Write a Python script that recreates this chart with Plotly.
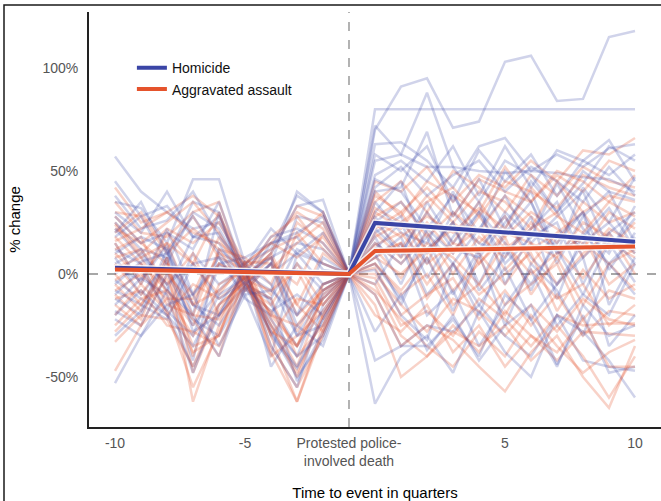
import plotly.graph_objects as go

# quarters relative to the event (event position = -1 on this axis)
quarters = list(range(-10, 11))

# homicide city series (% change), 21 values each
homicide = [
    [57, 40, 30, 22, 25, 3, 0, 10, 5, 0, 70, 91, 95, 71, 74, 103, 106, 84, 85, 115, 118],
    [45, 28, 33, 18, 20, -2, 8, 15, 12, 0, 80, 80, 80, 80, 80, 80, 80, 80, 80, 80, 80],
    [35, 32, 15, 46, 46, 5, 12, 38, 30, 0, 72, 58, 88, 52, 35, 55, 48, 30, 44, 62, 55],
    [30, 20, 40, 18, 28, -3, 10, 33, 36, 0, 63, 64, 55, 42, 62, 66, 50, 58, 52, 61, 63],
    [25, 12, 8, 35, 30, -8, -12, 12, 5, 0, 55, 58, 52, 52, 50, 49, 50, 49, 47, 46, 40],
    [22, 8, -5, -42, 12, 2, -30, -46, -22, 0, 46, 40, 22, 38, 20, 50, 35, 10, 42, 25, 47],
    [18, 28, 5, 30, 22, 0, -8, 28, 25, 0, 40, 42, 69, 28, 46, 22, 45, 30, 50, 40, 36],
    [15, -5, 22, -10, 8, -12, -20, 5, -8, 0, 35, 20, 15, 40, 10, 30, 18, 44, 22, 10, 33],
    [12, 5, -18, 10, -5, 4, -5, -30, -10, 0, 30, 45, 10, 25, -5, 20, 35, 5, 28, 40, 15],
    [10, 18, 12, -20, 30, -4, 15, 20, 28, 0, 28, 8, 35, 15, 30, 5, 18, 25, -5, 20, 30],
    [8, -10, 5, -25, -8, 6, -15, -35, -18, 0, 25, 35, 20, 5, 22, 38, 15, 28, 40, 12, 27],
    [5, 12, -8, 18, 15, -6, 5, -20, 8, 0, 22, 10, 30, 12, 8, 25, 40, 10, 18, 32, 12],
    [3, -3, 14, -15, -20, 2, -28, -50, -32, 0, 20, 28, 5, 30, 15, 10, 22, 35, 8, 20, 5],
    [0, 10, -5, 5, 8, -10, -40, 10, -5, 0, 18, -5, 22, 10, 30, 15, -8, 18, 30, 2, 20],
    [-3, -12, -20, -45, -20, -5, -12, -52, -28, 0, 15, 5, 18, -10, 12, 28, 8, -5, 15, 25, 10],
    [-5, 6, 10, -10, 5, 8, 15, 18, 2, 0, 12, 25, -2, 18, 35, -5, 20, 12, -10, 15, -4],
    [-8, -15, -22, 5, -12, -4, -22, -40, -8, 0, 10, -15, 12, 25, -8, 8, 28, -12, 20, 5, 18],
    [-10, 2, -18, -30, 4, 0, 8, -25, -35, 0, 8, 18, -10, 5, -20, 12, -5, 15, 30, -15, 8],
    [-12, -20, 8, -15, -25, -6, -18, -10, -20, 0, 5, -12, 8, -18, 10, -25, 5, -8, -30, 5, -10],
    [-15, -2, -10, -48, -15, 3, -35, -55, -15, 0, 2, -20, -32, 5, -15, 3, -22, -5, 8, -35, -20],
    [-18, -25, 0, -22, -30, -8, 5, -30, -25, 0, -5, 15, -20, -8, -35, -15, 2, -25, -10, -20, 5],
    [-20, -8, -20, -35, -10, -2, -25, -40, -30, 0, -10, -35, -25, -28, -15, -30, -40, -20, -42, -45, -47],
    [-22, -30, -15, -10, -35, -10, -8, -20, -5, 0, -28, -10, -37, -20, -42, -25, -15, -44, -20, -48, -45],
    [-30, -18, 12, -28, -20, 2, -45, -25, -12, 0, -63, -40, -30, -48, -18, -38, -50, -20, -28, -42, -60],
    [-53, -30, -8, -20, -40, -6, -28, -45, -22, 0, -42, -35, -35, -22, -40, -10, -22, -45, -15, -30, -25],
    [38, 22, 26, 40, 18, 4, 22, 10, 20, 0, 58, 50, 62, 35, 60, 45, 58, 38, 55, 48, 58],
    [28, 15, 20, 12, 35, 0, 18, 22, 15, 0, 48, 55, 45, 62, 38, 62, 42, 60, 55, 65, 45],
    [20, 35, 10, 28, 10, -5, 5, 40, 30, 0, 42, 52, 38, 48, 55, 40, 52, 45, 35, 52, 38],
]

# aggravated assault city series (% change), 21 values each
assault = [
    [42, 25, 30, 38, 28, 5, 15, 30, 22, 0, 45, 40, 52, 35, 48, 42, 55, 45, 60, 58, 66],
    [35, 20, 18, 30, 35, -2, 10, 33, 28, 0, 40, 28, 45, 38, 30, 52, 35, 48, 40, 55, 50],
    [30, 28, 10, 22, 12, 8, -5, 25, 15, 0, 35, 45, 30, 50, 42, 30, 48, 38, 52, 45, 42],
    [25, 10, 22, 15, 25, 3, 12, 18, 30, 0, 30, 22, 38, 25, 40, 35, 22, 45, 30, 38, 35],
    [22, 15, 5, -10, 18, -5, 8, -15, 10, 0, 28, 35, 18, 30, 20, 38, 28, 15, 35, 25, 30],
    [20, 30, 12, 28, 8, 2, -10, 20, 5, 0, 25, 12, 30, 15, 35, 18, 30, 22, 12, 30, 22],
    [18, 5, -8, -25, 5, 0, -20, -35, -12, 0, 22, 30, 10, 25, 15, 28, 5, 20, 30, 12, 25],
    [15, -5, 20, 5, -10, 6, 5, -5, 20, 0, 20, 8, 25, 10, 28, 12, 22, 30, 8, 22, 15],
    [12, 18, -10, -30, -15, -4, -25, -48, -20, 0, 18, 25, 12, 22, 5, 20, 15, 8, 25, 18, 10],
    [10, -2, 15, -15, 10, 4, 8, -20, -8, 0, 15, 5, 20, 0, 18, 8, 25, 12, -2, 15, 8],
    [8, 12, -5, 10, -20, -6, -15, 5, -15, 0, 14, 20, 5, 15, 10, -5, 12, 20, 15, 5, 12],
    [5, -10, 8, -40, -5, 2, -30, -62, -25, 0, 12, -2, 15, 8, -5, 15, 0, 10, 18, -5, 5],
    [3, 8, -15, -20, 12, -8, 5, -28, -5, 0, 10, 15, -5, 12, 22, 2, 15, -5, 10, 20, 0],
    [0, -15, 5, -62, -25, 5, -40, -30, -18, 0, 8, 0, 12, -8, 5, 18, -10, 8, -15, 5, -8],
    [-3, 5, -20, -5, -12, -2, 10, -15, -28, 0, 8, 15, -12, 5, -10, 0, 10, -18, 2, -12, -5],
    [-5, -18, -2, -35, -30, 6, -22, -45, -10, 0, 5, -10, 0, -20, 8, -15, -5, 5, -22, -8, -12],
    [-8, 0, -12, -12, 5, -3, -8, 2, -22, 0, 5, -8, 8, -15, -5, -20, 2, -12, -5, -25, -15],
    [-10, -22, 8, -48, -18, 0, -35, -55, -30, 0, 3, -20, -10, -2, -22, -8, -25, -10, -30, -18, -20],
    [-12, -8, -25, -28, -35, -7, -18, -35, -5, 0, 0, -15, -28, -12, -18, -30, -15, -28, -12, -22, -25],
    [-15, -25, 0, -15, -8, 3, -30, -12, -15, 0, -2, -25, -18, -30, -12, -22, -35, -20, -25, -24, -24],
    [-20, -5, -18, -55, -28, -5, -12, -40, -25, 0, -5, -30, -40, -25, -38, -18, -30, -42, -28, -29, -30],
    [-25, -12, -8, -22, -40, 1, -25, -50, -20, 0, -8, -22, -35, -45, -28, -40, -20, -35, -48, -38, -32],
    [-33, -20, -22, -45, -15, -4, -28, -35, -12, 0, -10, -35, -25, -32, -45, -57, -38, -25, -40, -60, -40],
    [-47, -25, -12, -38, -30, 2, -20, -25, -8, 0, -15, -50, -40, -28, -35, -25, -42, -30, -50, -65, -35],
    [-28, -15, 2, -20, -22, -1, -38, -62, -28, 0, -20, -28, -15, -38, -25, -45, -30, -38, -22, -45, -45],
    [28, 15, 25, 35, 20, 0, 18, 28, 12, 0, 38, 30, 42, 28, 46, 40, 35, 50, 45, 35, 48],
    [24, 8, 15, 5, 30, -3, 2, 15, 25, 0, 32, 25, 35, 42, 28, 45, 40, 32, 48, 42, 38],
    [16, 22, 30, 20, 15, 5, 15, 8, 18, 0, 26, 18, 28, 20, 32, 22, 42, 28, 20, 35, 28],
]

# average trend lines
mean_x = [-10, -1, 0, 10]
homicide_mean = [3.0, 0.0, 24.8, 15.7]
assault_mean = [2.2, 0.0, 11.2, 13.3]

series_names = ["Homicide", "Aggravated assault"]

x_tickvals = [-10, -5, -1, 5, 10]
x_ticktext = ["-10", "-5", "Protested police-<br>involved death", "5", "10"]
y_tickvals = [-50, 0, 50, 100]
y_ticktext = ["-50%", "0%", "50%", "100%"]

BLUE = "#3a45a6"
RED = "#e5532c"
BLUE_FAINT = "rgba(58,69,166,0.24)"
RED_FAINT = "rgba(229,83,44,0.26)"

fig = go.Figure()

for i in range(max(len(homicide), len(assault))):
    if i < len(homicide):
        fig.add_trace(go.Scatter(x=quarters, y=homicide[i], mode="lines",
                                 line=dict(color=BLUE_FAINT, width=2.5),
                                 showlegend=False, hoverinfo="skip"))
    if i < len(assault):
        fig.add_trace(go.Scatter(x=quarters, y=assault[i], mode="lines",
                                 line=dict(color=RED_FAINT, width=2.5),
                                 showlegend=False, hoverinfo="skip"))

# white halos under the mean lines
for m in (homicide_mean, assault_mean):
    fig.add_trace(go.Scatter(x=mean_x, y=m, mode="lines",
                             line=dict(color="rgba(255,255,255,0.8)", width=7),
                             showlegend=False, hoverinfo="skip"))

fig.add_trace(go.Scatter(x=mean_x, y=homicide_mean, mode="lines", name=series_names[0],
                         line=dict(color=BLUE, width=4)))
fig.add_trace(go.Scatter(x=mean_x, y=assault_mean, mode="lines", name=series_names[1],
                         line=dict(color=RED, width=4)))

# reference lines
fig.add_shape(type="line", xref="paper", yref="y", x0=0, x1=1, y0=0, y1=0,
              line=dict(color="#8a8a8a", width=1.3, dash="dash"), layer="below")
fig.add_shape(type="line", xref="x", yref="paper", x0=-1, x1=-1, y0=0, y1=1,
              line=dict(color="#8a8a8a", width=1.3, dash="dash"), layer="below")
# outer frame
fig.add_shape(type="rect", xref="paper", yref="paper",
              x0=-0.1486, x1=1.2, y0=-0.3, y1=1.0169,
              line=dict(color="#1a1a1a", width=1.5), fillcolor="rgba(0,0,0,0)")

fig.update_layout(
    width=661, height=501,
    margin=dict(l=89, r=0, t=12, b=74),
    paper_bgcolor="white", plot_bgcolor="white",
    font=dict(family="Liberation Sans, Arial, sans-serif", size=14, color="#000"),
    legend=dict(x=0.075, y=0.903, xanchor="left", yanchor="top",
                bgcolor="rgba(255,255,255,0)", font=dict(size=14, color="#111"),
                itemwidth=30, tracegroupgap=0),
    showlegend=True,
)

fig.update_xaxes(
    range=[-11, 11], tickmode="array", tickvals=x_tickvals, ticktext=x_ticktext,
    showgrid=False, zeroline=False, showline=True, linecolor="#222", linewidth=2,
    ticks="", ticklabelstandoff=2, tickfont=dict(size=14, color="#555"),
    automargin=False,
    title=dict(text="Time to event in quarters", font=dict(size=15, color="#000"), standoff=20),
)
fig.update_yaxes(
    range=[-74.3, 127.2], tickmode="array", tickvals=y_tickvals, ticktext=y_ticktext,
    showgrid=False, zeroline=False, showline=True, linecolor="#222", linewidth=2,
    ticks="", ticklabelstandoff=6, tickfont=dict(size=14, color="#555"),
    automargin=False,
    title=dict(text="% change", font=dict(size=15, color="#000"), standoff=18),
)

fig.write_html("out.html", config={"displayModeBar": False},
               post_script="document.body.style.margin='0';")
